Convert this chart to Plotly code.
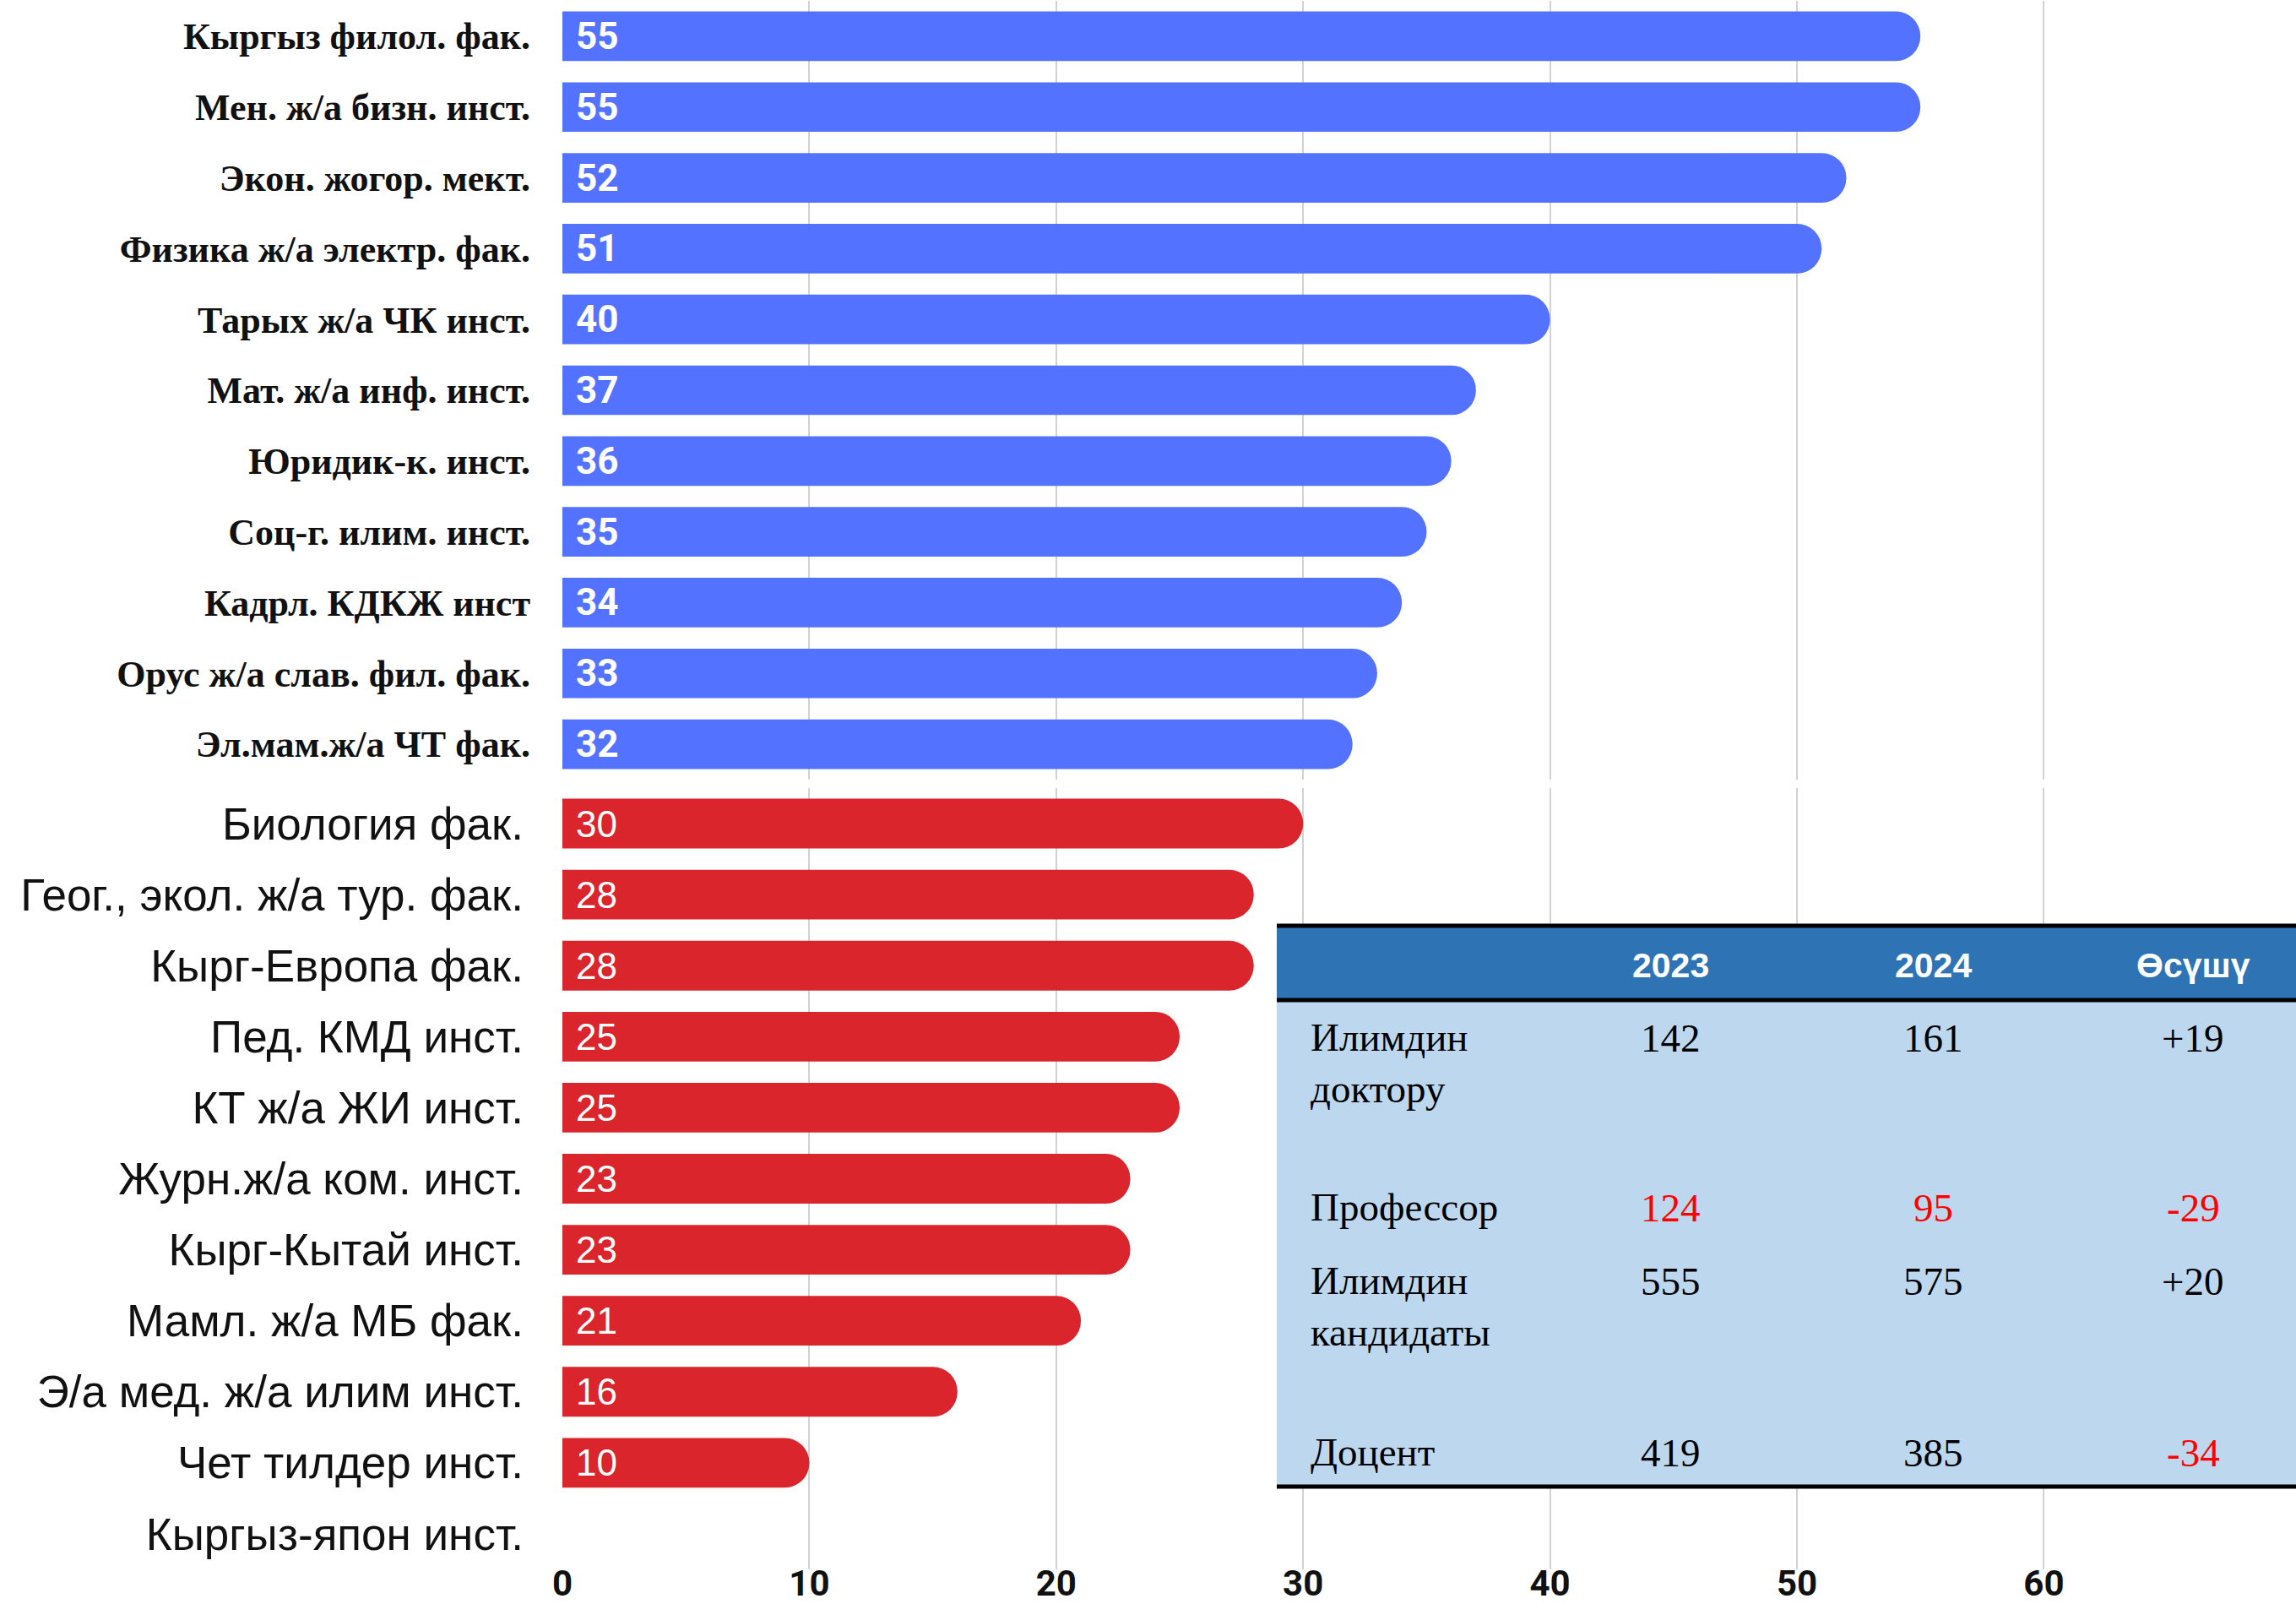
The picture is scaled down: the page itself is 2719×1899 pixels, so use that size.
import plotly.graph_objects as go
from plotly.subplots import make_subplots

# ---------------- data ----------------
top_labels = ["Кыргыз филол. фак.", "Мен. ж/а бизн. инст.", "Экон. жогор. мект.",
              "Физика ж/а электр. фак.", "Тарых ж/а ЧК инст.", "Мат. ж/а инф. инст.",
              "Юридик-к. инст.", "Соц-г. илим. инст.", "Кадрл. КДКЖ инст",
              "Орус ж/а слав. фил. фак.", "Эл.мам.ж/а ЧТ фак."]
top_values = [55, 55, 52, 51, 40, 37, 36, 35, 34, 33, 32]

bottom_labels = ["Биология фак.", "Геог., экол. ж/а тур. фак.", "Кырг-Европа фак.",
                 "Пед. КМД инст.", "КТ ж/а ЖИ инст.", "Журн.ж/а ком. инст.",
                 "Кырг-Кытай инст.", "Мамл. ж/а МБ фак.", "Э/а мед. ж/а илим инст.",
                 "Чет тилдер инст.", "Кыргыз-япон инст."]
bottom_values = [30, 28, 28, 25, 25, 23, 23, 21, 16, 10, None]

x_ticks = [0, 10, 20, 30, 40, 50, 60]

table_header = ["2023", "2024", "Өсүшү"]
row_names = ["Илимдин<br>доктору", "Профессор", "Илимдин<br>кандидаты", "Доцент"]
val_2023 = ["142", "124", "555", "419"]
val_2024 = ["161", "95", "575", "385"]
growth = ["+19", "-29", "+20", "-34"]
red_2023 = [False, True, False, False]
red_2024 = [False, True, False, False]
red_growth = [False, True, False, True]

# ---------------- layout geometry ----------------
W, H = 2719, 1899
ML, MR, MT, MB = 666, 0, 0, 41
PW, PH = W - ML - MR, H - MT - MB


def px(p):
    return (p - ML) / PW


def py(p):
    return (H - MB - p) / PH


BLUE = "#5272FF"
RED = "#D9252B"
GRID = "#d2d2d2"

fig = make_subplots(rows=2, cols=1)

fig.add_trace(go.Bar(
    x=top_values, y=top_labels, orientation="h",
    marker=dict(color=BLUE, cornerradius=29, line_width=0),
    hoverinfo="skip", showlegend=False), row=1, col=1)
fig.add_trace(go.Bar(
    x=bottom_values, y=bottom_labels, orientation="h",
    marker=dict(color=RED, cornerradius=29, line_width=0),
    hoverinfo="skip", showlegend=False), row=2, col=1)

xmax = PW / 29.24
common_x = dict(range=[0, xmax], tickvals=x_ticks, showgrid=True, gridcolor=GRID,
                gridwidth=2, zeroline=False, showline=False, fixedrange=True,
                automargin=False)
fig.update_xaxes(**common_x)
fig.update_layout(
    xaxis=dict(showticklabels=False),
    xaxis2=dict(showticklabels=True, ticks="", ticklabelstandoff=-12,
                tickfont=dict(family="Roboto", size=42, color="#111", weight="bold")),
    yaxis=dict(domain=[py(923), py(1)], categoryorder="array", categoryarray=top_labels,
               autorange="reversed", automargin=False, ticks="", ticklabelstandoff=37,
               showgrid=False, fixedrange=True,
               tickfont=dict(family="Liberation Serif", size=44, color="#111", weight="bold")),
    yaxis2=dict(domain=[py(1858), py(933)], categoryorder="array", categoryarray=bottom_labels,
                autorange="reversed", automargin=False, ticks="", ticklabelstandoff=45,
                showgrid=False, fixedrange=True,
                tickfont=dict(family="Liberation Sans", size=53, color="#111")),
    bargap=0.30,
    width=W, height=H,
    margin=dict(l=ML, r=MR, t=MT, b=MB),
    paper_bgcolor="white", plot_bgcolor="white",
    showlegend=False,
)

annotations = []
# bar value labels
for lab, v in zip(top_labels, top_values):
    annotations.append(dict(x=0, y=lab, xref="x", yref="y", text=str(v), showarrow=False,
                            xanchor="left", xshift=14,
                            font=dict(family="Roboto", size=44, color="white", weight="bold")))
for lab, v in zip(bottom_labels, bottom_values):
    if v is None:
        continue
    annotations.append(dict(x=0, y=lab, xref="x2", yref="y2", text=str(v), showarrow=False,
                            xanchor="left", xshift=14,
                            font=dict(family="Liberation Sans", size=44, color="white")))

# ---------------- table ----------------
shapes = []
TL, TR = 1512, W
shapes.append(dict(type="rect", xref="paper", yref="paper", x0=px(TL), x1=px(TR),
                   y0=py(1760), y1=py(1184), fillcolor="#BDD7EE", line_width=0, layer="above"))
shapes.append(dict(type="rect", xref="paper", yref="paper", x0=px(TL), x1=px(TR),
                   y0=py(1184), y1=py(1096), fillcolor="#2E74B5", line_width=0, layer="above"))
for yy in [1096, 1184, 1760]:
    shapes.append(dict(type="line", xref="paper", yref="paper", x0=px(TL), x1=px(TR),
                       y0=py(yy), y1=py(yy), line=dict(color="black", width=5), layer="above"))

col_x = [1978, 2289, 2597]
for cx, t in zip(col_x, table_header):
    annotations.append(dict(x=px(cx), y=py(1143), xref="paper", yref="paper", text=t,
                            showarrow=False, xanchor="center", yanchor="middle",
                            font=dict(family="Liberation Sans", size=41, color="white",
                                      weight="bold")))

row_y = [1229, 1430, 1517, 1720]
TFS = 47
serif = "Liberation Serif, Times New Roman, serif"
for i, yc in enumerate(row_y):
    annotations.append(dict(x=px(1550), y=py(yc - 0.62 * TFS), xref="paper", yref="paper",
                            text=row_names[i], showarrow=False, xanchor="left", yanchor="top",
                            align="left",
                            font=dict(family=serif, size=TFS, color="black")))
    for cx, vals, reds in zip(col_x, [val_2023, val_2024, growth],
                              [red_2023, red_2024, red_growth]):
        annotations.append(dict(x=px(cx), y=py(yc), xref="paper", yref="paper",
                                text=vals[i], showarrow=False, xanchor="center",
                                yanchor="middle",
                                font=dict(family=serif, size=TFS,
                                          color="#FF0000" if reds[i] else "black")))

fig.update_layout(annotations=annotations, shapes=shapes)

fig.write_html("out.html", config={"displayModeBar": False},
               post_script="document.body.style.margin='0';document.body.style.overflow='hidden';")
